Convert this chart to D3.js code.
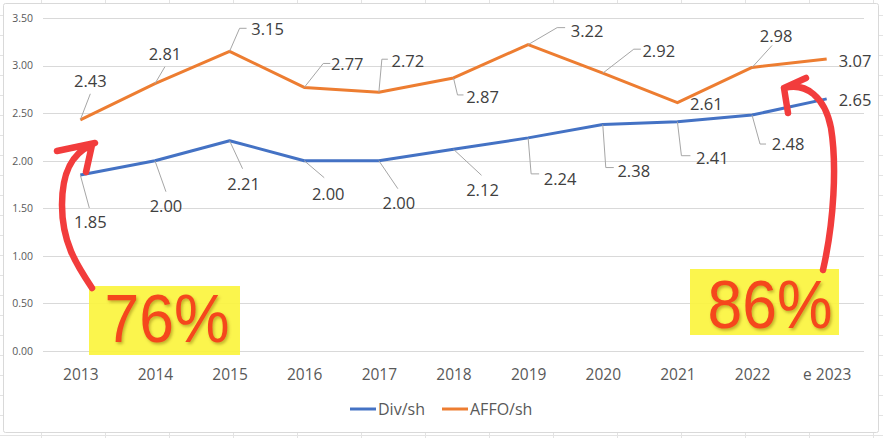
<!DOCTYPE html>
<html>
<head>
<meta charset="utf-8">
<script src="https://cdn.jsdelivr.net/npm/d3@7"></script>
<style>
	body { margin: 0; background: #ffffff; }
	svg { display: block; font-family: "Open Sans", "Liberation Sans", Arial, sans-serif; }
</style>
</head>
<body>
<svg id="chart" width="883" height="438"></svg>
<script>

// chart values
var years = ["2013", "2014", "2015", "2016", "2017", "2018", "2019", "2020", "2021", "2022", "e 2023"];
var divPerShare = [1.85, 2.00, 2.21, 2.00, 2.00, 2.12, 2.24, 2.38, 2.41, 2.48, 2.65];
var affoPerShare = [2.43, 2.81, 3.15, 2.77, 2.72, 2.87, 3.22, 2.92, 2.61, 2.98, 3.07];
var yTicks = [0, 0.5, 1, 1.5, 2, 2.5, 3, 3.5];
var seriesNames = ["Div/sh", "AFFO/sh"];
var payoutFirst = "76%";
var payoutLast = "86%";

// label placement, offsets from the point: [text dx, text dy, leader dx, leader dy, hook dx]
var divLabelPos = [
	[10, 47, 9, 33, null], [11, 45, 11, 31, null], [14, 43, 13, 28, null],
	[24, 33, 20, 17, null], [20, 42, 19, 28, null], [29, 41, 28, 26, null],
	[32, 41, 3, 36, 11], [31, 46, 3, 43, 11], [35, 36, 4, 34, 13],
	[36, 29, 8, 29, 14], [28, 1, null, null, null]
];
var affoLabelPos = [
	[10, -39, 10, -26, null], [10, -30, 10, -17, null], [38, -22, 10, -23, 17],
	[43, -23, 19, -24, 26], [29, -31, 3, -33, 9], [29, 19, 4, 17, 10],
	[59, -14, 29, -17, 37], [56, -22, 31, -24, 38], [29, 1, null, null, null],
	[24, -31, 20, -22, null], [28, 2, null, null, null]
];

var COLOURS = ["#4472c4", "#ed7d31"];
var FONT = "'Open Sans', 'Liberation Sans', Arial, sans-serif";

var svg = d3.select("#chart");

// spreadsheet cells behind the chart object
var sheet = svg.append("g");
d3.range(41, 883, 64).forEach(function(x) {
	sheet.append("line").attr("x1", x + 0.5).attr("x2", x + 0.5)
		.attr("y1", 0).attr("y2", 438).attr("stroke", "#e3e3e3");
});
d3.range(15, 438, 20).forEach(function(y) {
	sheet.append("line").attr("x1", 0).attr("x2", 883)
		.attr("y1", y + 0.5).attr("y2", y + 0.5).attr("stroke", "#e3e3e3");
});

svg.append("rect")
	.attr("x", 3.5).attr("y", 3.5)
	.attr("width", 875).attr("height", 429)
	.attr("rx", 2)
	.style("fill", "#ffffff")
	.style("stroke", "#d9d9d9");

var x = d3.scalePoint()
	.domain(years)
	.range([43, 864])
	.padding(0.5);

var y = d3.scaleLinear()
	.domain([0, 3.5])
	.range([351, 18]);

// gridlines
svg.append("g")
	.selectAll("line")
	.data(yTicks)
	.enter().append("line")
	.attr("x1", 43).attr("x2", 864)
	.attr("y1", function(d) { return Math.round(y(d)) + 0.5; })
	.attr("y2", function(d) { return Math.round(y(d)) + 0.5; })
	.style("stroke", "#d9d9d9");

// y axis labels
var yAxis = svg.append("g")
	.attr("transform", "translate(33,0)")
	.call(d3.axisLeft(y).tickValues(yTicks).tickSize(0).tickPadding(0)
		.tickFormat(d3.format(".2f")));
yAxis.select(".domain").remove();
yAxis.selectAll("text")
	.style("font-family", FONT)
	.style("font-size", "10.5px")
	.style("fill", "#595959");

// x axis labels
var xAxis = svg.append("g")
	.attr("transform", "translate(0,369)")
	.call(d3.axisBottom(x).tickSize(0).tickPadding(0));
xAxis.select(".domain").remove();
xAxis.selectAll("text")
	.attr("dy", "0.71em")
	.style("font-family", FONT)
	.style("font-size", "15.5px")
	.style("fill", "#595959");

var series = [divPerShare, affoPerShare];
var labelPos = [divLabelPos, affoLabelPos];

var line = d3.line()
	.x(function(d, i) { return x(years[i]); })
	.y(function(d) { return y(d); });

series.forEach(function(values, s) {
	svg.append("path")
		.datum(values)
		.attr("d", line)
		.style("fill", "none")
		.style("stroke", COLOURS[s])
		.style("stroke-width", 3)
		.style("stroke-linejoin", "round");
});

// data labels with leader lines
series.forEach(function(values, s) {
	var g = svg.append("g");
	values.forEach(function(v, i) {
		var px = x(years[i]), py = y(v);
		var p = labelPos[s][i];
		if (p[2] !== null) {
			var pts = [[px, py], [px + p[2], py + p[3]]];
			if (p[4] !== null) pts.push([px + p[4], py + p[3]]);
			g.append("path")
				.attr("d", d3.line()(pts))
				.style("fill", "none")
				.style("stroke", "#a6a6a6")
				.style("stroke-width", 1);
		}
		var last = p[2] === null && i === values.length - 1;
		g.append("text")
			.attr("x", px + p[0] + (last ? -16 : 0))
			.attr("y", py + p[1])
			.attr("dy", "0.36em")
			.attr("text-anchor", last ? "start" : "middle")
			.style("font-size", "16.5px")
			.style("fill", "#404040")
			.text(d3.format(".2f")(v));
	});
});

// legend
var legend = svg.append("g").attr("transform", "translate(350,409)");
var legendX = [0, 92];
seriesNames.forEach(function(name, s) {
	legend.append("line")
		.attr("x1", legendX[s]).attr("x2", legendX[s] + 26)
		.attr("y1", 0).attr("y2", 0)
		.style("stroke", COLOURS[s])
		.style("stroke-width", 3);
	legend.append("text")
		.attr("x", legendX[s] + 28)
		.attr("y", 0)
		.attr("dy", "0.36em")
		.style("font-size", "16px")
		.style("fill", "#595959")
		.text(name);
});

// hand drawn annotations
var shadow = svg.append("defs").append("filter").attr("id", "shadow");
shadow.append("feDropShadow")
	.attr("dx", 1.5).attr("dy", 2)
	.attr("stdDeviation", 1.5)
	.attr("flood-color", "#7a5a00")
	.attr("flood-opacity", 0.45);

function payoutBox(x0, y0, w, h, cx, base, label) {
	svg.append("rect")
		.attr("x", x0).attr("y", y0)
		.attr("width", w).attr("height", h)
		.style("fill", "#fbf43a")
		.style("fill-opacity", 0.9);
	svg.append("text")
		.attr("x", cx).attr("y", base)
		.attr("text-anchor", "middle")
		.attr("textLength", 125)
		.attr("lengthAdjust", "spacingAndGlyphs")
		.attr("filter", "url(#shadow)")
		.style("font-family", "'Liberation Sans', Arial, sans-serif")
		.style("font-size", "68px")
		.style("fill", "#f5461e")
		.text(label);
}

payoutBox(89, 286, 151, 69, 167, 342, payoutFirst);
payoutBox(690, 269, 149, 66, 770, 328, payoutLast);

var arrows = [
	"M92,288 C76,264 62,242 62,205 C62,175 70,154 92,145 M57,151 L95,143 M92,145 L86,172",
	"M823,270 C834,222 837,165 831,128 C825,97 806,82 784,88 M806,78 L784,88 L788,113"
];
svg.append("g")
	.selectAll("path")
	.data(arrows)
	.enter().append("path")
	.attr("d", function(d) { return d; })
	.style("fill", "none")
	.style("stroke", "#f23c3c")
	.style("stroke-width", 6.5)
	.style("stroke-linecap", "round")
	.style("stroke-linejoin", "round");

</script>
</body>
</html>
